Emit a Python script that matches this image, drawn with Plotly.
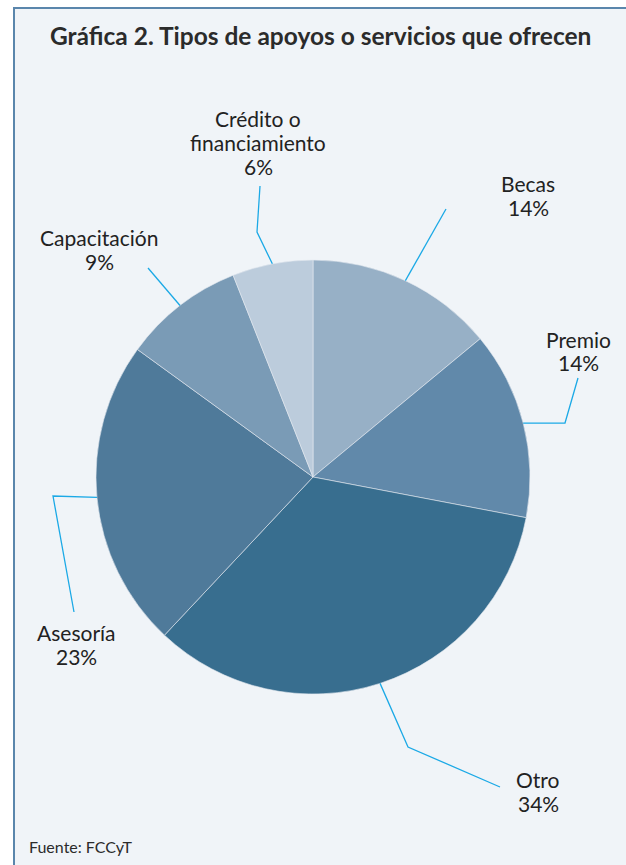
import math
import plotly.graph_objects as go

# ---- data ----
categories = ["Becas", "Premio", "Otro", "Asesoría", "Capacitación", "Crédito o financiamiento"]
label_lines = [["Becas"], ["Premio"], ["Otro"], ["Asesoría"], ["Capacitación"], ["Crédito o", "financiamiento"]]
percentages = [14, 14, 34, 23, 9, 6]
slice_colors = ["#97B0C6", "#6189AA", "#386E8F", "#4F7A9A", "#7A9BB6", "#BCCCDC"]

title_text = "Gráfica 2. Tipos de apoyos o servicios que ofrecen"
source_text = "Fuente: FCCyT"

# ---- layout geometry (pixels) ----
W, H = 626, 865
CX, CY, R = 313, 477, 217
LINE_GAP = 24
LABEL_FONT = dict(family="Lato", size=21, color="#222222")

# label placement: centre x and y of the last (percentage) line,
# elbow of leader and leader end
label_layout = {
    "Becas": dict(text=(528, 207), elbow=None, end=(446, 209)),
    "Premio": dict(text=(578, 363), elbow=(565, 423), end=(578, 378)),
    "Otro": dict(text=(538, 803), elbow=(408, 747), end=(500, 787)),
    "Asesoría": dict(text=(76, 656), elbow=(53, 496), end=(74, 612)),
    "Capacitación": dict(text=(99, 262), elbow=None, end=(148, 268)),
    "Crédito o financiamiento": dict(text=(258, 167), elbow=(257, 232), end=(260, 186)),
}


def px(x):
    return x / W


def py(y):
    return 1 - y / H


fig = go.Figure()

fig.add_trace(go.Pie(
    labels=categories,
    values=percentages,
    sort=False,
    direction="clockwise",
    rotation=0,
    marker=dict(colors=slice_colors, line=dict(color="#E4EAF0", width=0.6)),
    textinfo="none",
    hoverinfo="label+percent",
    showlegend=False,
    domain=dict(x=[px(CX - R), px(CX + R)], y=[py(CY + R), py(CY - R)]),
))

shapes = []
# panel background with left/top border
shapes.append(dict(type="rect", xref="paper", yref="paper", x0=px(14), x1=1.02, y0=-0.02, y1=py(8),
                   fillcolor="#F0F4F8", line=dict(width=0), layer="below"))
shapes.append(dict(type="line", xref="paper", yref="paper", x0=px(14), x1=px(14), y0=-0.02, y1=py(7),
                   line=dict(color="#5A86AC", width=2), layer="below"))
shapes.append(dict(type="line", xref="paper", yref="paper", x0=px(13), x1=1.02, y0=py(8), y1=py(8),
                   line=dict(color="#5A86AC", width=2), layer="below"))

annotations = []
total = sum(percentages)
cum = 0
for cat, lines, val in zip(categories, label_lines, percentages):
    mid = (cum + val / 2) / total * 2 * math.pi
    cum += val
    ax = CX + R * math.sin(mid)
    ay = CY - R * math.cos(mid)
    lay = label_layout[cat]
    pts = [(ax, ay)]
    if lay["elbow"] is not None:
        pts.append(lay["elbow"])
    pts.append(lay["end"])
    path = "M " + " L ".join(f"{px(x):.5f},{py(y):.5f}" for x, y in pts)
    shapes.append(dict(type="path", xref="paper", yref="paper", path=path,
                       line=dict(color="#1BA9E6", width=1.3)))
    tx, ty = lay["text"]
    all_lines = lines + [f"{val}%"]
    n = len(all_lines)
    for i, t in enumerate(all_lines):
        yy = ty - (n - 1 - i) * LINE_GAP
        annotations.append(dict(x=px(tx), y=py(yy), xref="paper", yref="paper",
                                text=t, showarrow=False,
                                xanchor="center", yanchor="middle", align="center",
                                font=LABEL_FONT))

annotations.append(dict(x=px(320), y=py(35), xref="paper", yref="paper", text=f"<b>{title_text}</b>",
                        showarrow=False, xanchor="center", yanchor="middle",
                        font=dict(family="Lato", size=24.5, color="#2B2B2B")))
annotations.append(dict(x=px(27), y=py(846), xref="paper", yref="paper", text=source_text,
                        showarrow=False, xanchor="left", yanchor="middle",
                        font=dict(family="Lato", size=16, color="#2B2B2B")))

fig.update_layout(
    width=W, height=H,
    margin=dict(l=0, r=0, t=0, b=0),
    paper_bgcolor="white",
    plot_bgcolor="white",
    shapes=shapes,
    annotations=annotations,
)

fig.write_html(
    "out.html",
    config=dict(displayModeBar=False),
    post_script="document.body.style.margin='0';document.body.style.overflow='hidden';",
)
